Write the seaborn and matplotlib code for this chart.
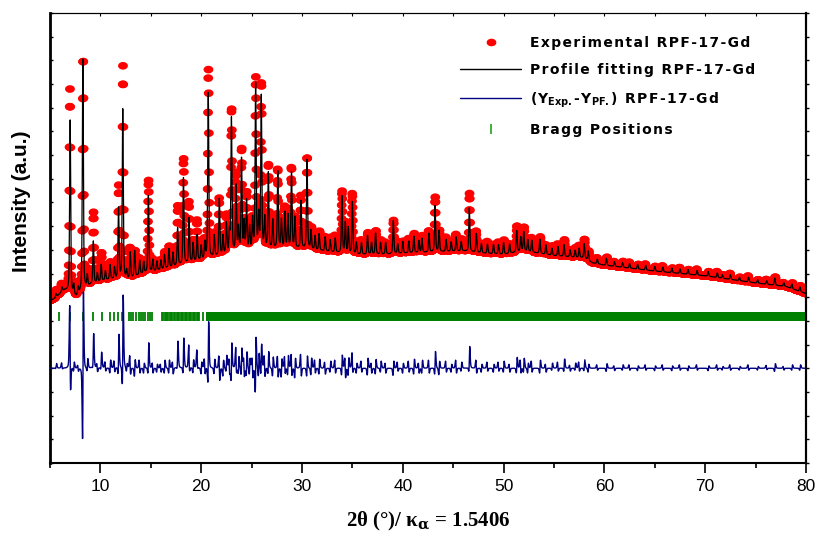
import numpy as np
import pandas as pd
import matplotlib
matplotlib.use("Agg")
import matplotlib.pyplot as plt
import seaborn as sns
from matplotlib.lines import Line2D
from matplotlib.path import Path
from matplotlib.font_manager import FontProperties

# ---------------- data (intensity in tick units) ----------------
# background level of the pattern
bg_2theta = [5, 5.5, 6, 6.5, 7.6, 9, 10, 11, 12.6, 14, 16, 18, 20, 22, 24, 26, 28, 30,
             32, 35, 38, 40, 43, 46, 48, 50, 52, 55, 58, 58.8, 60, 65, 70, 75, 78, 80]
bg_level = [6.85, 6.95, 7.15, 7.3, 7.0, 7.5, 7.65, 7.75, 7.7, 7.95, 8.15, 8.35, 8.55, 8.75,
            8.9, 9.0, 9.05, 9.05, 8.95, 8.8, 8.8, 8.85, 8.9, 8.95, 8.85, 8.8, 8.95, 8.75,
            8.65, 8.45, 8.35, 8.1, 7.9, 7.6, 7.45, 7.15]

# reflections: position (2theta), fitted height, observed height, observed offset
peak_pos = [5.6, 6.2, 7.0, 7.36, 7.8, 8.26, 8.7, 9.3, 9.7, 10.08,
            10.5, 10.96, 11.4, 11.8, 12.22, 12.6, 12.96, 13.4, 13.9, 14.3,
            14.76, 15.2, 15.6, 16.0, 16.36, 16.8, 17.2, 17.66, 18.24, 18.8,
            19.2, 19.6, 20.0, 20.36, 20.7, 21.3, 21.8, 22.16, 22.5, 22.8,
            23.0, 23.46, 23.7, 24.0, 24.26, 24.5, 24.8, 25.1, 25.4, 25.7,
            25.96, 26.3, 26.66, 27.1, 27.6, 27.96, 28.3, 28.6, 28.96, 29.3,
            29.9, 30.5, 30.9, 31.3, 31.7, 32.3, 32.8, 33.3, 33.96, 34.3,
            34.6, 35.0, 35.4, 35.9, 36.5, 36.9, 37.3, 37.8, 38.3, 39.06,
            39.5, 40.0, 40.6, 41.1, 41.6, 41.9, 42.6, 43.2, 43.6, 44.3,
            44.8, 45.3, 45.8, 46.6, 47.3, 47.8, 48.4, 49.0, 49.5, 50.0,
            50.6, 51.3, 51.7, 52.0, 52.4, 52.8, 53.6, 54.2, 54.8, 55.4,
            56.0, 56.6, 57.1, 57.5, 58.0, 58.4, 59.3, 60.2, 61.0, 61.8,
            62.5, 63.3, 64.1, 65.0, 65.8, 66.7, 67.5, 68.3, 69.2, 70.3,
            71.2, 71.7, 72.5, 73.4, 74.3, 75.2, 76.1, 76.9, 77.8, 78.6,
            79.4]
fit_height = [0.15, 0.2, 7.3, 0.4, 0.3, 9.8, 0.5, 1.8, 0.4, 0.7,
              0.4, 0.6, 0.5, 3.0, 7.2, 0.4, 1.1, 1.1, 0.6, 0.5,
              3.25, 0.5, 0.4, 0.4, 0.6, 0.8, 0.6, 1.6, 3.65, 1.9,
              0.8, 1.1, 0.6, 0.7, 7.0, 0.9, 2.4, 0.8, 1.3, 0.9,
              5.7, 2.8, 1.0, 3.9, 1.2, 2.1, 1.0, 1.3, 7.0, 1.4,
              6.45, 1.3, 3.2, 1.2, 3.25, 1.2, 1.5, 1.4, 3.2, 1.3,
              2.0, 3.76, 0.8, 0.6, 0.7, 0.6, 0.5, 0.6, 2.4, 1.3,
              1.1, 2.2, 0.5, 0.5, 0.8, 0.5, 0.9, 0.5, 0.5, 1.4,
              0.4, 0.5, 0.5, 0.7, 0.5, 0.6, 0.8, 1.95, 0.9, 0.5,
              0.4, 0.6, 0.4, 1.85, 0.8, 0.4, 0.4, 0.4, 0.4, 0.5,
              0.4, 0.9, 0.6, 0.8, 0.5, 0.5, 0.6, 0.4, 0.3, 0.4,
              0.5, 0.3, 0.3, 0.4, 0.6, 0.4, 0.2, 0.3, 0.2, 0.2,
              0.2, 0.2, 0.2, 0.2, 0.2, 0.2, 0.2, 0.2, 0.2, 0.2,
              0.2, 0.15, 0.2, 0.15, 0.2, 0.15, 0.15, 0.3, 0.15, 0.2,
              0.2]
obs_height = [0.3, 0.35, 8.6, 0.5, 0.3, 9.9, 0.7, 3.0, 0.4, 1.2,
              0.5, 0.7, 0.6, 3.9, 9.0, 0.4, 1.3, 1.1, 0.7, 0.5,
              3.9, 0.5, 0.4, 0.4, 0.7, 0.9, 0.6, 2.5, 4.45, 2.55,
              0.9, 1.7, 0.6, 0.8, 8.0, 1.0, 2.4, 0.8, 1.6, 1.0,
              6.1, 3.3, 1.2, 4.3, 1.2, 2.4, 1.1, 1.3, 7.25, 1.6,
              7.0, 1.4, 3.55, 1.3, 3.35, 1.2, 1.7, 1.6, 3.4, 1.3,
              2.2, 3.9, 0.9, 0.7, 0.8, 0.6, 0.6, 0.7, 2.6, 1.3,
              1.2, 2.55, 0.5, 0.6, 0.9, 0.5, 1.0, 0.6, 0.5, 1.4,
              0.5, 0.5, 0.6, 0.8, 0.5, 0.7, 0.9, 2.3, 0.9, 0.6,
              0.4, 0.7, 0.5, 2.45, 0.9, 0.4, 0.5, 0.4, 0.5, 0.6,
              0.4, 1.1, 0.7, 1.0, 0.5, 0.6, 0.7, 0.4, 0.4, 0.5,
              0.7, 0.3, 0.4, 0.5, 0.8, 0.4, 0.25, 0.35, 0.2, 0.25,
              0.25, 0.2, 0.25, 0.2, 0.25, 0.2, 0.25, 0.2, 0.25, 0.2,
              0.25, 0.15, 0.25, 0.15, 0.25, 0.15, 0.2, 0.35, 0.15, 0.25,
              0.25]
obs_shift = [0.04, -0.04, -0.02, 0.04, -0.04, 0.03, 0.04, 0.02, -0.04, 0.03,
             -0.04, 0.04, -0.04, 0.02, 0.02, 0.04, -0.03, 0.03, -0.04, 0.04,
             0.015, -0.04, 0.04, -0.04, 0.04, 0.03, -0.04, 0.02, 0.015, -0.02,
             0.03, -0.02, 0.04, -0.04, 0.015, 0.03, -0.02, 0.04, 0.02, -0.03,
             0.012, -0.015, 0.03, 0.012, -0.03, 0.02, 0.03, -0.03, 0.015, 0.03,
             0.008, -0.03, 0.012, 0.03, -0.012, 0.03, -0.02, 0.025, -0.012, 0.03,
             -0.02, 0.01, 0.04, -0.04, 0.04, -0.04, 0.04, -0.04, 0.015, -0.03,
             0.03, -0.015, 0.04, -0.04, 0.04, -0.04, 0.03, 0.04, -0.04, 0.02,
             -0.04, 0.04, -0.04, 0.04, -0.04, 0.04, -0.03, 0.02, 0.03, -0.04,
             0.04, -0.04, 0.04, 0.02, -0.03, 0.04, -0.04, 0.04, -0.04, 0.04,
             -0.04, 0.03, -0.04, 0.03, 0.04, -0.04, 0.04, -0.04, 0.04, -0.04,
             0.04, -0.04, 0.04, -0.04, 0.03, 0.04, -0.05, 0.05, -0.05, 0.05,
             -0.05, 0.05, -0.05, 0.05, -0.05, 0.05, -0.05, 0.05, -0.05, 0.05,
             -0.05, 0.05, -0.05, 0.05, -0.05, 0.05, -0.05, 0.05, -0.05, 0.05,
             0.05]

# Bragg reflection markers (individual ticks + the unresolved dense band)
bragg_positions = [5.86, 7.02, 8.24, 9.31, 10.13, 10.99, 11.39, 11.72, 12.15,
                   12.81, 13.05, 13.27, 13.54, 13.8, 14.04, 14.27, 14.47, 14.7, 14.93, 15.13,
                   16.12, 16.24, 16.36, 16.5, 16.62, 16.75, 16.9, 17.02, 17.15, 17.3,
                   17.42, 17.56, 17.7, 17.82, 17.96, 18.1, 18.22, 18.36, 18.5, 18.62,
                   18.76, 18.9, 19.02, 19.16, 19.3, 19.42, 19.56, 19.7, 19.82, 20.18]
bragg_band = [(20.45, 79.9)]

diff_offset = 4.0
scan_start, scan_end, scan_step = 5.0, 80.0, 0.02
x_major = [10, 20, 30, 40, 50, 60, 70, 80]
x_minor = [5, 15, 25, 35, 45, 55, 65, 75]

HS = "\u200a"  # hair space, imitates the wide letter spacing of the original


def spaced(s):
    return HS.join(s)


labels = [spaced("Experimental RPF-17-Gd"), spaced("Profile fitting RPF-17-Gd"),
          spaced("(Y") + r"$_{\mathbf{Exp.}}$" + spaced("-Y") + r"$_{\mathbf{PF.}}$"
          + spaced(") RPF-17-Gd"),
          spaced("Bragg Positions")]

# ---------------- build the profiles ----------------
two_theta = np.round(np.arange(scan_start, scan_end + scan_step / 2, scan_step), 4)


def pseudo_voigt(x, c, fwhm=0.12, eta=0.5):
    u = (x - c) / fwhm
    return eta / (1 + 4 * u ** 2) + (1 - eta) * np.exp(-4 * np.log(2) * u ** 2)


bg = np.interp(two_theta, bg_2theta, bg_level)
fit = bg.copy()
obs = bg.copy()
for p, hf, ho, s in zip(peak_pos, fit_height, obs_height, obs_shift):
    fit += hf * pseudo_voigt(two_theta, p)
    obs += ho * pseudo_voigt(two_theta, p + s)
diff = obs - fit + diff_offset

df = pd.DataFrame({"tt": two_theta, "obs": obs, "fit": fit, "diff": diff})

# ---------------- figure ----------------
sns.set_theme(style="white")
plt.rcParams["font.family"] = ["Liberation Sans", "DejaVu Sans"]
plt.rcParams["text.color"] = "black"
plt.rcParams["axes.labelcolor"] = "black"
plt.rcParams["xtick.color"] = "black"
plt.rcParams["ytick.color"] = "black"
plt.rcParams["axes.edgecolor"] = "black"

fig = plt.figure(figsize=(8.19, 5.37), dpi=100)
ax = fig.add_axes([50 / 819, 74 / 537, 756 / 819, 450 / 537])

t = np.linspace(0, 2 * np.pi, 41)
ellipse = Path(np.column_stack([np.cos(t), 0.78 * np.sin(t)]))

sns.scatterplot(data=df, x="tt", y="obs", ax=ax, color="#ff0000", marker=ellipse,
                s=50, linewidth=0, edgecolor="none", legend=False, zorder=2)
sns.lineplot(data=df, x="tt", y="fit", ax=ax, color="black", lw=0.9,
             estimator=None, sort=False, zorder=3)
sns.lineplot(data=df, x="tt", y="diff", ax=ax, color="#000080", lw=1.0,
             estimator=None, sort=False, zorder=3)
ax.vlines(bragg_positions, 6.0, 6.38, color="#008000", lw=1.3, zorder=2)
for a, b in bragg_band:
    ax.fill_between([a, b], 6.0, 6.38, color="#008000", lw=0, zorder=2)

ax.set_xlim(5, 80)
ax.set_ylim(0, 19)
ax.set_xlabel("")
ax.set_ylabel("")

ax.set_xticks(x_major)
ax.set_xticks(x_minor, minor=True)
ax.set_xticklabels([str(v) for v in x_major])
ax.set_yticks(range(0, 20))
ax.set_yticklabels([])
ax.tick_params(axis="x", which="major", direction="out", length=7.2, width=1.2,
               pad=4, labelsize=12.5, colors="black", bottom=True)
ax.tick_params(axis="x", which="minor", direction="out", length=3.6, width=1.2, bottom=True)
ax.tick_params(axis="y", which="major", direction="in", length=2.5, width=1.0, left=True)
for lab in ax.get_xticklabels():
    lab.set_fontfamily("Liberation Sans")

ax.spines["left"].set_linewidth(2.0)
ax.spines["bottom"].set_linewidth(1.5)
ax.spines["right"].set_linewidth(1.5)
ax.spines["top"].set_linewidth(0.8)

secx = ax.secondary_xaxis("top")
secx.set_xticks(x_major + x_minor)
secx.set_xticklabels([])
secx.tick_params(direction="in", length=2, width=0.8)
secx.spines["top"].set_linewidth(0.8)
secy = ax.secondary_yaxis("right")
secy.set_yticks(range(0, 20))
secy.set_yticklabels([])
secy.tick_params(direction="out", length=2.5, width=1.0)
secy.spines["right"].set_linewidth(1.5)

fig.text(428 / 819, 1 - 521 / 537, r"2θ (°)/ κ$_{\mathbf{α}}$ = 1.5406",
         ha="center", va="center", fontsize=15, fontweight="bold", color="black",
         family="Liberation Serif", math_fontfamily="dejavuserif")
fig.text(22 / 819, 1 - 201 / 537, "Intensity (a.u.)", rotation=90, color="black",
         ha="center", va="center", fontsize=15, fontweight="bold", family="Liberation Sans")

handles = [
    Line2D([], [], ls="none", marker=ellipse, ms=7, mfc="#ff0000", mec="none"),
    Line2D([], [], color="black", lw=1.0),
    Line2D([], [], color="#000080", lw=1.0),
    Line2D([], [], ls="none", marker="|", ms=7, mec="#2ea82e", mew=1.3),
]
leg = ax.legend(handles, labels, loc="upper left",
                bbox_to_anchor=(460 / 819, 1 - 36 / 537), bbox_transform=fig.transFigure,
                frameon=False, borderpad=0, borderaxespad=0, handlelength=4.4,
                handletextpad=0.65, labelspacing=0.95, numpoints=1,
                prop=FontProperties(family="DejaVu Sans", weight="bold", size=10))
for txt in leg.get_texts():
    txt.set_math_fontfamily("dejavusans")
    txt.set_color("black")

fig.savefig("out.png", dpi=100)
